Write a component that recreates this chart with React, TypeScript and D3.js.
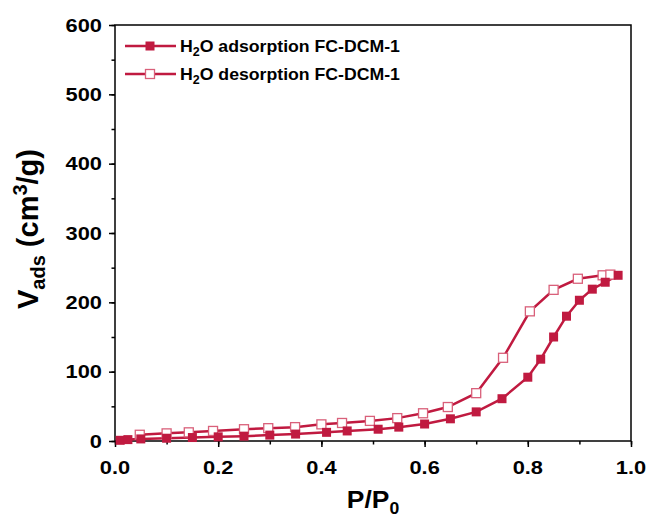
import React, { useEffect, useRef } from "react";
import * as d3 from "d3";

// adsorption branch (filled squares)
const adsP = [0.01, 0.025, 0.05, 0.1, 0.15, 0.2, 0.25, 0.3, 0.35, 0.41, 0.45, 0.51, 0.55, 0.6, 0.65, 0.7, 0.75, 0.8, 0.825, 0.85, 0.875, 0.9, 0.925, 0.95, 0.975];
const adsV = [1, 2, 3, 4, 5, 6, 7, 8.5, 10, 12.5, 14.5, 17, 20, 24.5, 32, 42, 61, 92, 118, 150, 180, 203, 219, 229, 239];
// desorption branch (open squares)
const desP = [0.048, 0.1, 0.143, 0.19, 0.25, 0.297, 0.349, 0.4, 0.44, 0.494, 0.547, 0.597, 0.645, 0.7, 0.752, 0.804, 0.85, 0.897, 0.945, 0.96];
const desV = [9, 11, 12.5, 14.5, 17, 18.5, 20, 24, 26, 29, 33, 40, 49, 69, 120, 187, 218, 234, 239, 240];

const xTicks = [0, 0.2, 0.4, 0.6, 0.8, 1.0];
const yTicks = [0, 100, 200, 300, 400, 500, 600];

const COLOR = "#C01A40";
const OPEN_STROKE = "#D9607A";
const FONT = "Arial, 'Liberation Sans', sans-serif";
const SX = 1.18; // text in the picture looks a bit wide

export default function App() {
  const ref = useRef<SVGSVGElement>(null);

  useEffect(() => {
    const svg = d3.select(ref.current);
    svg.selectAll("*").remove();

    const left = 115, right = 631, top = 25, bottom = 441;
    const x = d3.scaleLinear().domain([0, 1]).range([left, right]);
    const y = d3.scaleLinear().domain([0, 600]).range([bottom, top]);

    // frame
    svg.append("rect")
      .attr("x", left).attr("y", top)
      .attr("width", right - left).attr("height", bottom - top)
      .attr("fill", "none").attr("stroke", "#000").attr("stroke-width", 1.5);

    // ticks (minor + major), labels drawn separately
    const ax = svg.append("g").attr("transform", `translate(0,${bottom})`)
      .call(d3.axisBottom(x).tickValues(d3.range(0, 1.01, 0.1)).tickSize(3.5).tickFormat(() => ""));
    const axM = svg.append("g").attr("transform", `translate(0,${bottom})`)
      .call(d3.axisBottom(x).tickValues(xTicks).tickSize(6).tickFormat(() => ""));
    const ay = svg.append("g").attr("transform", `translate(${left},0)`)
      .call(d3.axisLeft(y).tickValues(d3.range(0, 601, 50)).tickSize(3.5).tickFormat(() => ""));
    const ayM = svg.append("g").attr("transform", `translate(${left},0)`)
      .call(d3.axisLeft(y).tickValues(yTicks).tickSize(6).tickFormat(() => ""));
    [ax, axM, ay, ayM].forEach((g) => {
      g.select(".domain").remove();
      g.selectAll("line").attr("stroke-width", 1.5);
    });

    const fmt = d3.format(".1f");
    xTicks.forEach((t) => {
      svg.append("text")
        .attr("transform", `translate(${x(t)},474) scale(${SX},1)`)
        .attr("text-anchor", "middle")
        .style("font-family", FONT).style("font-size", "18.5px").style("font-weight", "bold")
        .text(fmt(t));
    });
    yTicks.forEach((t) => {
      svg.append("text")
        .attr("transform", `translate(102,${y(t) + 6.5}) scale(${SX},1)`)
        .attr("text-anchor", "end")
        .style("font-family", FONT).style("font-size", "18.5px").style("font-weight", "bold")
        .text(String(t));
    });

    // axis titles
    const xt = svg.append("text").attr("transform", `translate(${(left + right) / 2},508) scale(1.1,1)`)
      .attr("text-anchor", "middle").style("font-family", FONT).style("font-size", "24px").style("font-weight", "bold");
    xt.append("tspan").text("P/P");
    xt.append("tspan").attr("dy", 6).style("font-size", "16px").text("0");

    const yt = svg.append("text").attr("transform", `translate(38,229) rotate(-90)`)
      .attr("text-anchor", "middle").style("font-family", FONT).style("font-size", "29px").style("font-weight", "bold");
    yt.append("tspan").text("V");
    yt.append("tspan").attr("dy", 7).style("font-size", "20px").text("ads");
    yt.append("tspan").attr("dy", -7).text(" (cm");
    yt.append("tspan").attr("dy", -11).style("font-size", "20px").text("3");
    yt.append("tspan").attr("dy", 11).text("/g)");

    const ads = adsP.map((p, i) => [x(p), y(adsV[i])] as [number, number]);
    const des = desP.map((p, i) => [x(p), y(desV[i])] as [number, number]);
    const path = d3.line();

    const plot = svg.append("g");
    plot.append("path").attr("d", path(des)).attr("fill", "none").attr("stroke", COLOR).attr("stroke-width", 2.5);
    plot.append("path").attr("d", path(ads)).attr("fill", "none").attr("stroke", COLOR).attr("stroke-width", 2.5);
    const s = 9;
    plot.selectAll(".open").data(des).enter().append("rect")
      .attr("x", (d) => d[0] - s / 2).attr("y", (d) => d[1] - s / 2)
      .attr("width", s).attr("height", s)
      .attr("fill", "#fff").attr("stroke", OPEN_STROKE).attr("stroke-width", 1.3);
    plot.selectAll(".fill").data(ads).enter().append("rect")
      .attr("x", (d) => d[0] - s / 2).attr("y", (d) => d[1] - s / 2)
      .attr("width", s).attr("height", s)
      .attr("fill", COLOR);

    // legend
    const items = [
      { label: "adsorption FC-DCM-1", open: false, yy: 46 },
      { label: "desorption FC-DCM-1", open: true, yy: 74 },
    ];
    items.forEach((it) => {
      const g = svg.append("g");
      g.append("line").attr("x1", 125).attr("x2", 176).attr("y1", it.yy).attr("y2", it.yy)
        .attr("stroke", COLOR).attr("stroke-width", 2.5);
      g.append("rect").attr("x", 150 - s / 2).attr("y", it.yy - s / 2).attr("width", s).attr("height", s)
        .attr("fill", it.open ? "#fff" : COLOR)
        .attr("stroke", it.open ? OPEN_STROKE : "none").attr("stroke-width", 1.3);
      const t = g.append("text").attr("transform", `translate(180,${it.yy + 6}) scale(1.04,1)`)
        .style("font-family", FONT).style("font-size", "17px").style("font-weight", "bold");
      t.append("tspan").text("H");
      t.append("tspan").attr("dy", 4).style("font-size", "12px").text("2");
      t.append("tspan").attr("dy", -4).text("O " + it.label);
    });
  }, []);

  return <svg ref={ref} width={650} height={523} style={{ position: "absolute", left: 0, top: 0, background: "#fff" }} />;
}
